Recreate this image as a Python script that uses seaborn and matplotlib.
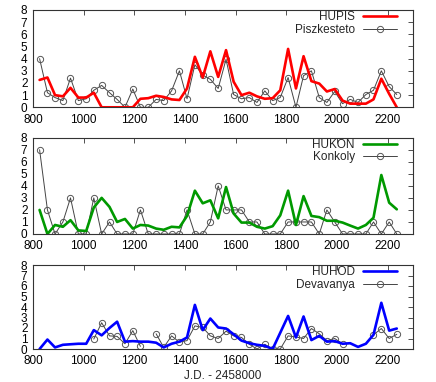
import numpy as np
import pandas as pd
import matplotlib
matplotlib.use("Agg")
import matplotlib.pyplot as plt
import seaborn as sns

# observation dates (J.D. - 2458000), roughly monthly
days = [826, 857, 887, 918, 948, 979, 1010, 1040, 1071, 1102, 1132, 1163,
        1194, 1224, 1255, 1286, 1316, 1347, 1378, 1408, 1439, 1470, 1500,
        1531, 1562, 1592, 1623, 1654, 1684, 1715, 1746, 1776, 1807, 1838,
        1868, 1899, 1930, 1960, 1991, 2022, 2052, 2083, 2114, 2144, 2175,
        2206, 2236]

hupis = [2.25, 2.45, 1.0, 0.9, 1.6, 0.8, 0.8, 1.2, 0, 0, 0, 0,
         0, 0.7, 0.75, 0.95, 0.85, 0.65, 0.6, 1.55, 4.15, 2.45, 4.6,
         2.5, 4.7, 2.1, 1.0, 1.2, 0.9, 0.7, 0.75, 1.4, 4.8, 1.55,
         4.2, 2.15, 1.95, 1.3, 1.5, 0.55, 0.3, 0.3, 0.3, 0.65, 2.35,
         1.1, 0]
piszkesteto = [4.0, 1.2, 0.8, 0.55, 2.4, 0.55, 0.7, 1.4, 1.8, 1.2, 0.65, 0,
               1.5, 0, 0, 0.65, 0.55, 1.35, 3.0, 0.7, 3.5, 2.65, 2.3,
               1.55, 3.95, 1.05, 0.7, 0.8, 0.4, 1.35, 0.55, 0.8, 2.45, 0,
               2.6, 3.0, 0.8, 0.4, 1.3, 0.3, 0.65, 0.4, 1.05, 1.4, 3.0,
               1.7, 1.05]

hukon = [2.0, 0, 0.75, 0.6, 1.15, 0.3, 0.25, 2.2, 3.0, 2.25, 1.0, 1.25,
         0.45, 0.75, 0.7, 0.45, 0.35, 0.6, 0.55, 1.5, 3.6, 2.55, 2.8,
         1.3, 3.9, 1.7, 0.95, 0.95, 0.6, 0.45, 0.65, 1.55, 3.6, 0.75,
         3.15, 1.5, 1.4, 1.1, 1.1, 0.95, 0.7, 0.45, 0.75, 1.35, 4.9,
         2.6, 2.05]
konkoly = [7, 2, 0, 1, 3, 0, 0, 3, 0, 1, 0, 0,
           0, 2, 0, 0, 0, 0, 0, 2, 0, 0, 1,
           4, 2, 2, 2, 1, 1, 0, 0, 0, 1, 1,
           1, 1, 0, 2, 1, 0, 0, 0, 0, 1, 0,
           1, 0]

huhod = [0, 0.9, 0.15, 0.4, 0.45, 0.5, 0.5, 1.8, 1.3, 2.0, 2.6, 0.7,
         0.75, 0.7, 0.7, 0.6, 0.15, 0.5, 0.7, 1.1, 4.2, 1.8, 2.9,
         2.05, 1.95, 1.4, 0.8, 0.55, 0.4, 0.3, 0, 1.55, 3.15, 1.1,
         3.1, 0.85, 1.25, 0.7, 0.75, 0.5, 0.55, 0.2, 0.5, 1.35, 4.4,
         1.75, 1.95]
devavanya = [None, None, None, None, None, None, None, 0.95, 2.5, 1.25, 1.2, 0.5,
             1.75, 0.25, None, 1.45, 0.15, 1.25, 0.65, 0.8, 2.2, 2.05, 1.25,
             1.0, 1.7, 1.25, 1.1, 0.45, 0, 0.45, 0, 0, 1.25, 1.15,
             1.0, 1.95, 1.45, 0.8, 1.0, 0.5, None, None, None, 1.35, 1.95,
             1.0, 1.4]

panels = [
    ("HUPIS", hupis, "#ff0000", "Piszkesteto", piszkesteto),
    ("HUKON", hukon, "#009900", "Konkoly", konkoly),
    ("HUHOD", huhod, "#0000ff", "Devavanya", devavanya),
]

sns.set_style("white")
plt.rcParams['font.family'] = ['Liberation Sans', 'DejaVu Sans']

fig = plt.figure(figsize=(4.36, 3.82), dpi=100)
W, H = 436, 382
boxes = [(10, 107.3), (137.7, 234), (265, 349)]  # top/bottom pixel rows
left, right = 33, 413


def draw_segments(ax, x, y, label, **kw):
    # split at missing values so the line breaks there
    df = pd.DataFrame({"x": x, "y": pd.to_numeric(pd.Series(y), errors="coerce")})
    ok = df["y"].notna()
    seg = (~ok).cumsum()
    first = True
    for _, part in df[ok].groupby(seg[ok]):
        sns.lineplot(data=part, x="x", y="y", ax=ax, sort=False, estimator=None,
                     label=label if first else None, **kw)
        first = False


for (name, vals, color, site, obs), (top, bot) in zip(panels, boxes):
    ax = fig.add_axes([left / W, 1 - bot / H, (right - left) / W, (bot - top) / H])
    draw_segments(ax, days, obs, site, color="#444444", linewidth=0.7,
                  marker="o", markersize=4.5, markerfacecolor="none",
                  markeredgecolor="#555555", markeredgewidth=0.7)
    sns.lineplot(x=days, y=vals, ax=ax, color=color, linewidth=1.9,
                 label=name, sort=False, estimator=None)
    ax.set_xlim(800, 2300)
    ax.set_ylim(0, 8)
    ax.set_xticks(range(800, 2201, 200))
    ax.set_yticks(range(0, 9))
    ax.set_xlabel("")
    ax.set_ylabel("")
    ax.tick_params(direction="in", length=3.5, width=0.6, labelsize=8.5,
                   top=True, right=True, colors="#333333", labelcolor="black")
    ax.tick_params(axis="x", pad=4.5)
    ax.tick_params(axis="y", pad=4)
    for s in ax.spines.values():
        s.set_color("#333333")
        s.set_linewidth(0.8)
    h, l = ax.get_legend_handles_labels()
    order = [l.index(name), l.index(site)]
    ax.legend([h[i] for i in order], [l[i] for i in order],
              loc="upper right", bbox_to_anchor=(0.962, 1.0),
              frameon=False, markerfirst=False, fontsize=8.5,
              handlelength=2.9, handletextpad=0.7, labelspacing=0.05,
              borderpad=0.1, borderaxespad=0)

fig.text((left + right) / 2 / W, 1 - 376 / H, "J.D. - 2458000",
         ha="center", va="center", fontsize=8.5)

fig.savefig("out.png", dpi=100)
